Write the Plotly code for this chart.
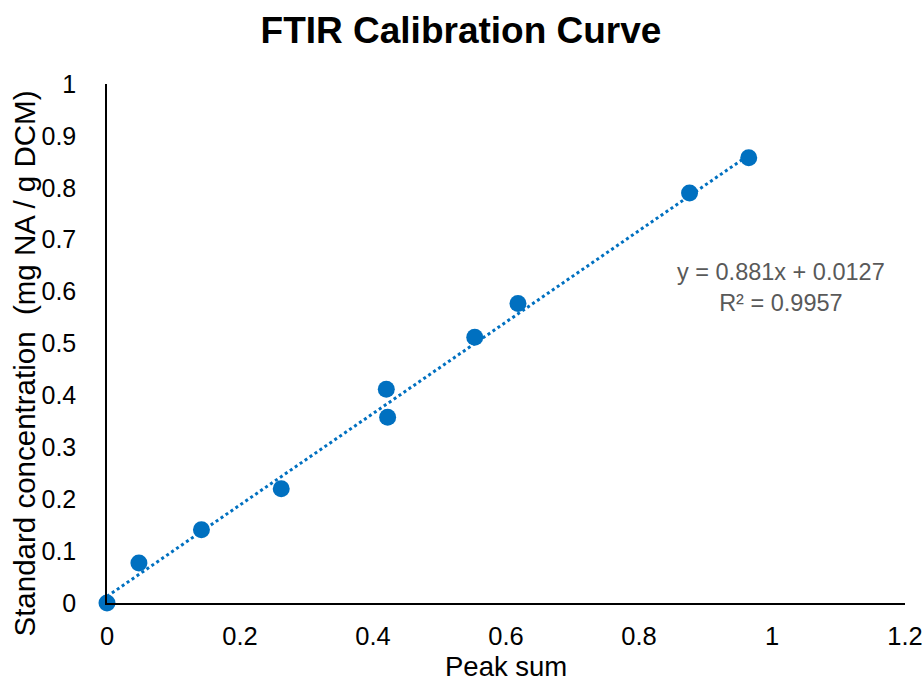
import plotly.graph_objects as go

# Calibration standards: integrated FTIR peak sum vs. known concentration
peak_sum = [0.0, 0.048, 0.142, 0.262, 0.420, 0.422, 0.553, 0.618, 0.876, 0.965]
concentration = [0.0, 0.077, 0.141, 0.220, 0.412, 0.358, 0.512, 0.577, 0.790, 0.858]

# Linear fit parameters
slope = 0.881
intercept = 0.0127
r_squared = 0.9957

x_ticks = [0, 0.2, 0.4, 0.6, 0.8, 1, 1.2]
y_ticks = [0, 0.1, 0.2, 0.3, 0.4, 0.5, 0.6, 0.7, 0.8, 0.9, 1]

blue = "#0070C0"
font_family = "Liberation Sans, Arial, sans-serif"

fit_x = [min(peak_sum), max(peak_sum)]
fit_y = [slope * v + intercept for v in fit_x]

fig = go.Figure()
fig.add_trace(go.Scatter(
    x=fit_x, y=fit_y, mode="lines",
    line=dict(color=blue, width=3, dash="dot"),
    hoverinfo="skip", showlegend=False, cliponaxis=False,
))
fig.add_trace(go.Scatter(
    x=peak_sum, y=concentration, mode="markers",
    marker=dict(color=blue, size=17),
    showlegend=False, cliponaxis=False,
))

# Trendline equation and goodness of fit
fig.add_annotation(
    x=1.013, y=0.667, xref="x", yref="y",
    text=f"y = {slope}x + {intercept}<br>R² = {r_squared}",
    showarrow=False, align="center", yanchor="top",
    font=dict(family=font_family, size=23.5, color="#595959"),
)

# Axis titles
fig.add_annotation(
    x=0.5, y=0, xref="paper", yref="paper",
    text="Peak sum", showarrow=False,
    xanchor="center", yanchor="bottom", yshift=-81,
    font=dict(family=font_family, size=27.5, color="black"),
)
fig.add_annotation(
    x=0, y=0.5, xref="paper", yref="paper",
    text="Standard concentration  (mg NA / g DCM)", showarrow=False,
    textangle=-90, xanchor="center", yanchor="middle",
    xshift=-83, yshift=-20,
    font=dict(family=font_family, size=29.5, color="black"),
)

fig.update_layout(
    width=922, height=684,
    margin=dict(l=107, r=17, t=84, b=81),
    paper_bgcolor="white", plot_bgcolor="white",
    title=dict(
        text="<b>FTIR Calibration Curve</b>",
        x=0.5, xanchor="center", y=0.956, yanchor="middle",
        font=dict(family=font_family, size=37, color="black"),
    ),
    font=dict(family=font_family, size=25, color="black"),
    xaxis=dict(
        range=[0, 1.2], tickvals=x_ticks, ticktext=[f"{v:g}" for v in x_ticks],
        showgrid=False, zeroline=False, showline=True, linecolor="black", linewidth=2,
        ticks="", ticklabelstandoff=9, automargin=False, ticklabeloverflow="allow",
        tickfont=dict(size=25.5),
    ),
    yaxis=dict(
        range=[0, 1], tickvals=y_ticks, ticktext=[f"{v:g}" for v in y_ticks],
        showgrid=False, zeroline=False, showline=True, linecolor="black", linewidth=1.5,
        ticks="", ticklabelstandoff=24, automargin=False, ticklabeloverflow="allow",
        tickfont=dict(size=25),
    ),
)

fig.write_html("out.html")
